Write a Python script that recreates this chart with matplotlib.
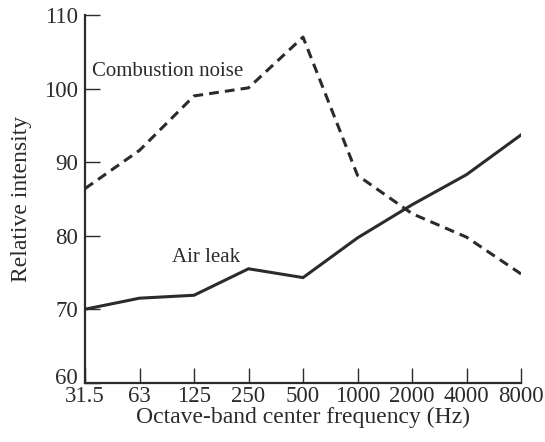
import matplotlib
matplotlib.use('Agg')
import matplotlib.pyplot as plt
from matplotlib.transforms import ScaledTranslation

# Plot constants
FONT = 'Liberation Serif'
LINE_COLOR = '#2b2b2b'
TICK_SIZE = 16.5
LABEL_SIZE = 17
NOTE_SIZE = 15

# Data
frequencies = ['31.5', '63', '125', '250', '500', '1000', '2000', '4000', '8000']
air_leak = [70.0, 71.5, 71.9, 75.5, 74.3, 79.7, 84.2, 88.3, 93.7]
combustion_noise = [86.4, 91.6, 99.0, 100.1, 107.0, 88.2, 83.0, 79.8, 74.8]
y_ticks = [60, 70, 80, 90, 100, 110]

plt.rcParams['font.family'] = [FONT, 'DejaVu Serif']

fig = plt.figure(figsize=(5.45, 4.42), dpi=100)
ax = fig.add_axes([0.156, 0.134, 0.80, 0.832])

x = list(range(len(frequencies)))
ax.plot(x, air_leak, '-', color=LINE_COLOR, linewidth=2.2, solid_joinstyle='miter')
ax.plot(x, combustion_noise, '--', color=LINE_COLOR, linewidth=2.2, dashes=(3.2, 2.0))

ax.text(0.12, 102.3, 'Combustion noise', fontsize=NOTE_SIZE, color=LINE_COLOR, va='center')
ax.text(1.59, 77.0, 'Air leak', fontsize=NOTE_SIZE, color=LINE_COLOR, va='center')

ax.set_xlim(0, len(frequencies) - 1)
ax.set_ylim(60, 110)
ax.set_xticks(x)
ax.set_xticklabels(frequencies)
ax.set_yticks(y_ticks)

for side in ['top', 'right']:
    ax.spines[side].set_visible(False)
for side in ['left', 'bottom']:
    ax.spines[side].set_linewidth(1.6)
    ax.spines[side].set_color(LINE_COLOR)

ax.tick_params(axis='both', direction='in', length=11, width=1.0, colors=LINE_COLOR,
               labelsize=TICK_SIZE, labelcolor=LINE_COLOR)
ax.tick_params(axis='x', pad=2)
ax.tick_params(axis='y', pad=5)

# lift the "60" label a little so it clears "31.5"
lbl = ax.get_yticklabels()[0]
lbl.set_transform(lbl.get_transform() + ScaledTranslation(0, 5 / 72, fig.dpi_scale_trans))

ax.set_xlabel('Octave-band center frequency (Hz)', fontsize=LABEL_SIZE, color=LINE_COLOR, labelpad=0)
ax.set_ylabel('Relative intensity', fontsize=LABEL_SIZE, color=LINE_COLOR, labelpad=9)

fig.savefig('out.png', dpi=100)
